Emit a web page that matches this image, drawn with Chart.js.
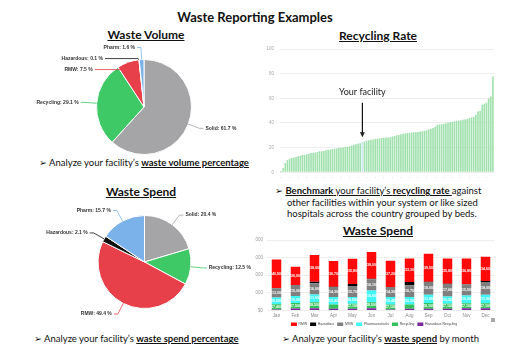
<!DOCTYPE html>
<html><head><meta charset="utf-8">
<script src="https://cdn.jsdelivr.net/npm/chart.js"></script>
<style>
body{margin:0;width:510px;height:360px;background:#fff;position:relative;overflow:hidden;font-family:Lato,'DejaVu Sans',sans-serif;color:#111}
.t{position:absolute;white-space:nowrap;line-height:1}
.title{font-weight:bold;font-size:13px}
.h{font-weight:bold;font-size:12px;text-decoration:underline;transform:translateX(-50%)}
.p{font-size:9.5px}
canvas{position:absolute}
.ar{font-family:'DejaVu Sans';font-size:9.5px}
</style></head><body>

<div class="t title" style="left:255px;top:11px;transform:translateX(-50%)">Waste Reporting Examples</div>
<div class="t h" style="left:146px;top:29px">Waste Volume</div>
<div class="t h" style="left:378px;top:30px">Recycling Rate</div>
<div class="t h" style="left:141px;top:186px">Waste Spend</div>
<div class="t h" style="left:378px;top:225px">Waste Spend</div>

<div class="t p" style="left:39px;top:158px"><span class="ar">➢</span> Analyze your facility’s <b><u>waste volume percentage</u></b></div>
<div class="t p" style="left:275px;top:186px"><span class="ar">➢</span> <u><b>Benchmark</b> your facility’s <b>recycling rate </b></u>against</div>
<div class="t p" style="left:287px;top:198px">other facilities within your system or like sized</div>
<div class="t p" style="left:287px;top:209px">hospitals across the country grouped by beds.</div>
<div class="t p" style="left:34px;top:334px"><span class="ar">➢</span> Analyze your facility’s <b><u>waste spend percentage</u></b></div>
<div class="t p" style="left:282px;top:334px"><span class="ar">➢</span> Analyze your facility’s <b><u>waste spend</u></b> by month</div>

<canvas id="c1" width="260" height="134" style="left:0;top:40px"></canvas>
<canvas id="c2" width="260" height="124" style="left:0;top:200px"></canvas>
<canvas id="c3" width="240" height="141" style="left:255px;top:40px"></canvas>
<div style="position:absolute;left:255px;top:232px;width:255px;height:106px;overflow:hidden">
  <canvas id="c4" width="265" height="104" style="left:-20px;top:0"></canvas>
</div>
<div style="position:absolute;left:491px;top:318px;width:4px;height:4px;background:#aaa"></div>

<script>
// ---- data ----
const pieCategories = ['Solid', 'Recycling', 'RMW', 'Hazardous', 'Pharm'];
const volumePercent = [61.7, 29.1, 7.5, 0.1, 1.6];
const spendPercent = [20.4, 12.5, 49.4, 2.1, 15.7];

const facilityRates = [
  1, 3.5, 7.5, 10, 11, 11.5, 12, 12.5, 13, 13.5,
  14, 14.3, 14.6, 15, 15.6, 15.8, 16, 16.5, 17, 17,
  17.3, 17.8, 18.2, 18.5, 18.8, 19, 19.3, 19.7, 20, 20.2,
  20.5, 20.8, 21.2, 21.8, 22.3, 22.8, 23.2, 23.6, 24.5, 25,
  25.5, 25.9, 26.3, 26.7, 27, 27.2, 27.5, 27.8, 28, 28.2,
  28.3, 28.5, 29, 29.5, 30, 30.3, 30.8, 31.2, 31.5, 31.8,
  32, 32.2, 32.4, 32.5, 32.6, 33, 33.3, 33.7, 34.2, 34.8,
  35.3, 36, 37, 38.5, 38.8, 39, 39.4, 39.8, 40.2, 40.7,
  41, 41.3, 41.8, 42, 42.3, 42.6, 42.9, 43.3, 44, 44.5,
  45, 46.6, 49.3, 50, 54.7, 55.5, 56.5, 60, 61.5, 77.6
];
const facilityIndex = 38;
const rateTicks = [0, 20, 40, 60, 80, 100];

const months = ['Jan','Feb','Mar','Apr','May','Jun','Jul','Aug','Sep','Oct','Nov','Dec'];
const rmw          = [40500, 26000, 38000, 36700, 35800, 38000, 37200, 33300, 39500, 35800, 36800, 34600];
const hazardous    = [500, 500, 2000, 300, 3000, 500, 0, 4500, 500, 500, 300, 1500];
const msw          = [13000, 15000, 16000, 14300, 15700, 16100, 14300, 16700, 18000, 17600, 15500, 18000];
const pharmaceuticals = [9500, 10000, 11000, 10400, 9500, 16600, 10400, 10500, 11900, 10500, 10900, 11900];
const recycling    = [7400, 7500, 8500, 6200, 7100, 8500, 7100, 6200, 8100, 7100, 7100, 7100];
const hazRecycling = [1500, 3000, 3300, 2400, 2400, 3300, 1500, 2400, 2400, 2400, 3300, 3300];
const spendTicks = [0, 25000, 50000, 75000, 100000];

// ---- styles ----
const pieColors = ['#a5a5a7', '#3ec866', '#e8404a', '#111111', '#7cb2ea'];
Chart.defaults.font.family = "'Liberation Sans', Arial, sans-serif";

const pieLabelPlugin = {
  id: 'pieLabels',
  afterDraw(chart) {
    const ctx = chart.ctx;
    const meta = chart.getDatasetMeta(0);
    const vals = chart.data.datasets[0].data;
    const items = [];
    meta.data.forEach((arc, i) => {
      const p = arc.getProps(['x','y','startAngle','endAngle','outerRadius'], true);
      const mid = (p.startAngle + p.endAngle) / 2;
      const r = p.outerRadius;
      items.push({
        i, cx: p.x, cy: p.y, r,
        ax: p.x + Math.cos(mid) * r, ay: p.y + Math.sin(mid) * r,
        ex: p.x + Math.cos(mid) * (r + 12), ey: p.y + Math.sin(mid) * (r + 12),
        right: Math.cos(mid) >= 0
      });
    });
    items.forEach(it => { it.ly = it.ey; it.pushed = false; });
    [true, false].forEach(side => {
      const arr = items.filter(it => it.right === side).sort((a, b) => a.ly - b.ly);
      for (let k = 1; k < arr.length; k++) {
        if (arr[k].ly < arr[k-1].ly + 11) { arr[k].ly = arr[k-1].ly + 11; arr[k].pushed = true; }
      }
    });
    ctx.save();
    ctx.font = "bold 5px 'Liberation Sans', Arial";
    ctx.textBaseline = 'middle';
    items.forEach(it => {
      let tx;
      if (it.pushed) {
        const R = it.r + 16, dy = it.ly - it.cy;
        const dx = Math.sqrt(Math.max(R*R - dy*dy, 16));
        tx = it.right ? it.cx + dx : it.cx - dx;
      } else {
        tx = it.right ? it.ex + 6 : it.ex - 6;
      }
      ctx.strokeStyle = pieColors[it.i];
      ctx.lineWidth = 0.8;
      ctx.beginPath();
      ctx.moveTo(it.right ? tx - 2 : tx + 2, it.ly);
      ctx.lineTo(it.ex, it.ly);
      ctx.lineTo(it.ax, it.ay);
      ctx.stroke();
      ctx.fillStyle = '#333';
      ctx.textAlign = it.right ? 'left' : 'right';
      ctx.fillText(chart.data.labels[it.i] + ': ' + vals[it.i] + ' %', tx, it.ly);
    });
    ctx.restore();
  }
};

function pieChart(id, values, pad) {
  return new Chart(document.getElementById(id), {
    type: 'pie',
    data: { labels: pieCategories, datasets: [{ data: values, backgroundColor: pieColors, borderColor: '#fff', borderWidth: 1 }] },
    options: {
      responsive: false, animation: false,
      layout: { padding: pad },
      plugins: { legend: { display: false }, tooltip: { enabled: false } }
    },
    plugins: [pieLabelPlugin]
  });
}
pieChart('c1', volumePercent, { left: 28, right: 0, top: 19, bottom: 19 });
pieChart('c2', spendPercent, { left: 29, right: 0, top: 15, bottom: 15 });

// ---- recycling rate ----
const facilityPlugin = {
  id: 'facility',
  afterDraw(chart) {
    const ctx = chart.ctx, xs = chart.scales.x, ys = chart.scales.y;
    const px = xs.getPixelForValue(facilityIndex);
    ctx.save();
    ctx.fillStyle = '#222';
    ctx.font = "9px Lato, 'Liberation Sans'";
    ctx.textAlign = 'center'; ctx.textBaseline = 'middle';
    ctx.fillText('Your facility', px, ys.getPixelForValue(65));
    const y0 = ys.getPixelForValue(56.5), y1 = ys.getPixelForValue(facilityRates[facilityIndex] + 4);
    ctx.strokeStyle = '#111'; ctx.lineWidth = 1.2;
    ctx.beginPath(); ctx.moveTo(px, y0); ctx.lineTo(px, y1 - 4); ctx.stroke();
    ctx.beginPath(); ctx.moveTo(px - 2.5, y1 - 5); ctx.lineTo(px + 2.5, y1 - 5); ctx.lineTo(px, y1); ctx.closePath(); ctx.fill();
    ctx.restore();
  }
};
new Chart(document.getElementById('c3'), {
  type: 'bar',
  data: {
    labels: facilityRates.map((v, i) => String(i + 1)),
    datasets: [{
      data: facilityRates,
      backgroundColor: facilityRates.map((v, i) => i === facilityIndex ? '#cbe6ee' : '#9fe0ad'),
      categoryPercentage: 0.75, barPercentage: 1
    }]
  },
  options: {
    responsive: false, animation: false,
    layout: { padding: { top: 9, right: 1 } },
    plugins: { legend: { display: false }, tooltip: { enabled: false } },
    scales: {
      x: {
        grid: { display: false, drawTicks: false }, border: { display: false },
        ticks: { autoSkip: true, maxTicksLimit: 29, maxRotation: 0, padding: 1, color: '#aaa', font: { size: 6 }, callback: () => '·' },
        afterFit(s) { s.height = 7; }
      },
      y: {
        min: 0, max: 100,
        afterBuildTicks(s) { s.ticks = rateTicks.map(v => ({ value: v })); },
        grid: { color: '#eeeeee', drawTicks: false }, border: { display: false },
        ticks: { padding: 6, color: '#aaa', font: { size: 4.5 } },
        afterFit(s) { s.width = 25; }
      }
    }
  },
  plugins: [facilityPlugin]
});

// ---- waste spend by month ----
const segLabelPlugin = {
  id: 'segLabels',
  afterDatasetsDraw(chart) {
    const ctx = chart.ctx;
    ctx.save();
    ctx.font = "bold 3.6px 'Liberation Sans', Arial";
    ctx.fillStyle = '#fff'; ctx.textAlign = 'center'; ctx.textBaseline = 'middle';
    chart.data.datasets.forEach((ds, di) => {
      chart.getDatasetMeta(di).data.forEach((bar, i) => {
        const p = bar.getProps(['x','y','base'], true);
        const h = p.base - p.y;
        if (h >= 5) ctx.fillText('$' + ds.data[i].toLocaleString('en-US'), p.x, (p.y + p.base) / 2);
      });
    });
    ctx.restore();
  }
};
new Chart(document.getElementById('c4'), {
  type: 'bar',
  data: {
    labels: months,
    datasets: [
      { label: 'Hazardous Recycling', data: hazRecycling, backgroundColor: '#7a2a9a' },
      { label: 'Recycling', data: recycling, backgroundColor: '#34c05a' },
      { label: 'Pharmaceuticals', data: pharmaceuticals, backgroundColor: '#3ff5f5' },
      { label: 'MSW', data: msw, backgroundColor: '#7f7f7f' },
      { label: 'Hazardous', data: hazardous, backgroundColor: '#000000' },
      { label: 'RMW', data: rmw, backgroundColor: '#ff0a0a' }
    ]
  },
  options: {
    responsive: false, animation: false,
    datasets: { bar: { barPercentage: 0.5, categoryPercentage: 1 } },
    layout: { padding: { top: 8, right: 5, left: 18, bottom: 0 } },
    plugins: {
      tooltip: { enabled: false },
      legend: {
        position: 'bottom', reverse: true,
        labels: { boxWidth: 6, boxHeight: 3.5, padding: 3, color: '#444', font: { size: 3.4 } }
      }
    },
    scales: {
      x: {
        stacked: true, grid: { display: false, drawTicks: false }, border: { display: false },
        ticks: { color: '#888', font: { size: 4.5 }, padding: 3, autoSkip: false, maxRotation: 0 },
        afterFit(s) { s.height = 9; }
      },
      y: {
        stacked: true, min: 0, max: 100000,
        afterBuildTicks(s) { s.ticks = spendTicks.map(v => ({ value: v })); },
        grid: { color: '#eeeeee', drawTicks: false }, border: { display: false },
        ticks: { color: '#999', font: { size: 4.5 }, padding: 4, callback: v => '$' + v.toLocaleString('en-US') },
        afterFit(s) { s.width = 14; }
      }
    }
  },
  plugins: [segLabelPlugin]
});
</script>
</body></html>
